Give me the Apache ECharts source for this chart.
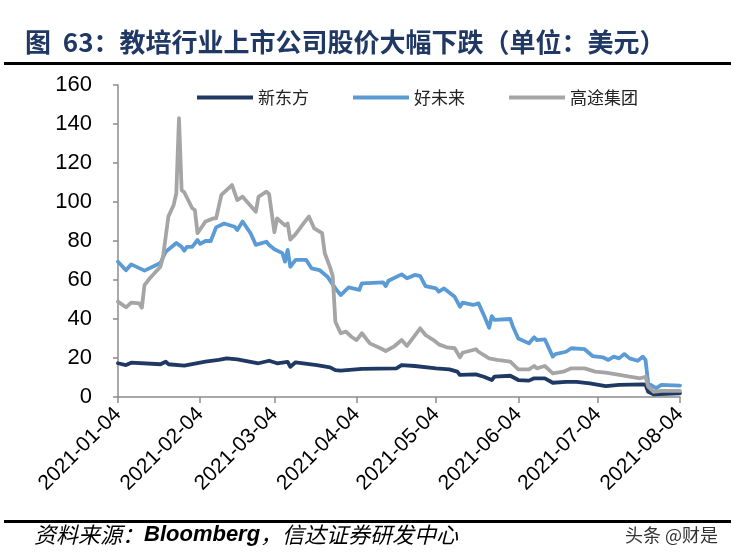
<!DOCTYPE html>
<html>
<head>
<meta charset="utf-8">
<script src="https://cdn.jsdelivr.net/npm/echarts@6/dist/echarts.min.js"></script>
<style>
html,body{margin:0;padding:0;background:#fff;}
#main{width:734px;height:560px;}
</style>
</head>
<body>
<div id="main"></div>
<script>
// ---- data (USD) ----
const seriesNames = ['新东方', '好未来', '高途集团'];
const tickDates = ['2021-01-04','2021-02-04','2021-03-04','2021-04-04','2021-05-04','2021-06-04','2021-07-04','2021-08-04'];
const yTicks = [0, 20, 40, 60, 80, 100, 120, 140, 160];

const eduDates = ['2021-01-04','2021-01-07','2021-01-09','2021-01-20','2021-01-22','2021-01-23','2021-01-29','2021-02-06','2021-02-11','2021-02-14','2021-02-18','2021-02-26','2021-03-02','2021-03-05','2021-03-09','2021-03-10','2021-03-12','2021-03-20','2021-03-25','2021-03-27','2021-03-29','2021-04-06','2021-04-19','2021-04-21','2021-04-26','2021-05-04','2021-05-09','2021-05-12','2021-05-13','2021-05-19','2021-05-22','2021-05-25','2021-05-26','2021-06-01','2021-06-04','2021-06-08','2021-06-10','2021-06-14','2021-06-17','2021-06-22','2021-06-26','2021-07-01','2021-07-07','2021-07-12','2021-07-21','2021-07-22','2021-07-23','2021-07-25','2021-08-04'];
const eduValues = [17.3,16.4,17.6,16.8,18.1,16.8,16.1,18.1,19.0,19.8,19.3,17.3,18.6,17.3,18.0,15.5,17.8,16.4,15.2,13.8,13.5,14.4,14.7,16.4,15.9,14.7,14.2,13.0,11.3,11.6,10.4,8.7,10.4,10.9,8.7,8.4,9.6,9.6,7.3,7.8,7.8,7.0,5.6,6.2,6.5,6.3,2.7,1.4,1.9];

const talDates = ['2021-01-04','2021-01-07','2021-01-09','2021-01-14','2021-01-20','2021-01-22','2021-01-26','2021-01-28','2021-01-29','2021-01-30','2021-02-01','2021-02-03','2021-02-04','2021-02-06','2021-02-08','2021-02-10','2021-02-13','2021-02-17','2021-02-18','2021-02-20','2021-02-23','2021-02-25','2021-03-01','2021-03-02','2021-03-04','2021-03-07','2021-03-08','2021-03-09','2021-03-10','2021-03-12','2021-03-16','2021-03-18','2021-03-21','2021-03-24','2021-03-27','2021-03-29','2021-04-01','2021-04-05','2021-04-06','2021-04-14','2021-04-15','2021-04-16','2021-04-21','2021-04-23','2021-04-26','2021-04-28','2021-04-30','2021-05-04','2021-05-05','2021-05-07','2021-05-11','2021-05-13','2021-05-14','2021-05-18','2021-05-20','2021-05-22','2021-05-24','2021-05-25','2021-05-26','2021-06-01','2021-06-02','2021-06-04','2021-06-08','2021-06-10','2021-06-11','2021-06-14','2021-06-17','2021-06-18','2021-06-22','2021-06-24','2021-06-29','2021-07-02','2021-07-06','2021-07-08','2021-07-10','2021-07-12','2021-07-14','2021-07-16','2021-07-19','2021-07-21','2021-07-22','2021-07-23','2021-07-26','2021-07-28','2021-08-04'];
const talValues = [69.4,65.0,68.0,64.8,68.7,74.5,79.0,77.0,75.0,77.0,77.0,80.5,78.5,80.0,80.0,87.0,89.0,87.3,85.6,90.0,84.0,78.0,79.6,78.0,75.8,73.8,69.4,75.4,66.8,70.3,70.3,66.0,65.1,61.7,55.7,52.3,56.2,54.9,58.3,58.8,56.9,59.6,62.9,60.9,62.6,62.0,56.9,55.7,54.0,55.7,51.4,46.3,48.4,47.2,48.0,42.0,35.5,41.5,39.5,40.0,36.0,30.0,27.5,30.6,29.2,29.6,20.7,22.0,23.2,25.0,24.5,21.0,20.3,19.0,20.7,19.8,22.0,19.8,18.6,20.7,19.0,7.0,4.5,6.2,5.8];

const gotuDates = ['2021-01-04','2021-01-07','2021-01-09','2021-01-12','2021-01-13','2021-01-14','2021-01-16','2021-01-20','2021-01-21','2021-01-23','2021-01-25','2021-01-26','2021-01-27','2021-01-28','2021-01-29','2021-02-01','2021-02-02','2021-02-03','2021-02-06','2021-02-09','2021-02-10','2021-02-12','2021-02-16','2021-02-18','2021-02-20','2021-02-25','2021-02-26','2021-03-01','2021-03-02','2021-03-04','2021-03-05','2021-03-08','2021-03-09','2021-03-10','2021-03-12','2021-03-15','2021-03-17','2021-03-19','2021-03-22','2021-03-23','2021-03-25','2021-03-26','2021-03-27','2021-03-29','2021-03-31','2021-04-02','2021-04-04','2021-04-06','2021-04-09','2021-04-13','2021-04-15','2021-04-18','2021-04-21','2021-04-23','2021-04-28','2021-04-30','2021-05-03','2021-05-05','2021-05-08','2021-05-11','2021-05-13','2021-05-14','2021-05-19','2021-05-20','2021-05-24','2021-05-27','2021-06-01','2021-06-04','2021-06-08','2021-06-10','2021-06-11','2021-06-14','2021-06-17','2021-06-21','2021-06-24','2021-06-29','2021-07-03','2021-07-07','2021-07-11','2021-07-16','2021-07-20','2021-07-22','2021-07-23','2021-07-25','2021-07-28','2021-08-04'];
const gotuValues = [48.9,46.0,48.4,48.0,45.8,57.4,60.9,66.8,72.0,92.5,98.5,104.5,143.0,106.0,105.0,96.8,95.9,84.0,90.0,91.6,91.6,103.6,108.7,101.0,102.7,95.0,102.7,105.3,104.0,84.5,91.6,88.0,89.0,80.7,83.5,89.0,92.5,86.5,84.0,73.7,66.5,62.0,38.6,32.7,33.5,30.9,29.2,32.7,27.5,25.0,23.6,25.8,29.2,26.2,35.2,31.8,29.2,27.0,25.5,25.0,20.3,22.7,24.5,23.2,19.8,19.0,18.1,14.2,14.2,15.9,14.7,15.9,12.1,13.0,14.7,14.7,13.0,12.5,11.6,10.4,9.6,10.4,5.3,2.7,3.1,3.1];

const colors = ['#1F3864', '#5B9BD5', '#A5A5A5'];

// ---- helpers: calendar-day positions (days since first tick date) ----
const DAY = 86400000;
function utc(s) { const p = s.split('-').map(Number); return Date.UTC(p[0], p[1] - 1, p[2]); }
const base = utc(tickDates[0]);
function dayOf(s) { return Math.round((utc(s) - base) / DAY); }
function pad(n) { return n < 10 ? '0' + n : '' + n; }
function fmtDay(v) { const d = new Date(base + Math.round(v) * DAY); return d.getUTCFullYear() + '-' + pad(d.getUTCMonth() + 1) + '-' + pad(d.getUTCDate()); }
function pairs(dates, vals) { return dates.map((d, i) => [dayOf(d), vals[i]]); }

const tickDays = tickDates.map(dayOf);
const chart = echarts.init(document.getElementById('main'), null, { renderer: 'canvas' });

const lineSeries = [
  [eduDates, eduValues],
  [talDates, talValues],
  [gotuDates, gotuValues]
].map((s, i) => ({
  name: seriesNames[i],
  type: 'line',
  data: pairs(s[0], s[1]),
  showSymbol: false,
  symbol: 'none',
  lineStyle: { color: colors[i], width: 3.8, join: 'round', cap: 'round' },
  itemStyle: { color: colors[i] },
  z: 2 + i,
  animation: false
}));

chart.setOption({
  animation: false,
  backgroundColor: '#ffffff',
  title: {
    text: '图  63：教培行业上市公司股价大幅下跌（单位：美元）',
    left: 20,
    top: 24,
    textStyle: {
      fontFamily: '"Noto Sans CJK SC", sans-serif',
      fontSize: 26,
      fontWeight: 'bold',
      color: '#1F3864'
    }
  },
  legend: {
    data: seriesNames,
    left: 192,
    top: 84,
    itemWidth: 56,
    itemHeight: 4,
    itemGap: 44,
    icon: 'rect',
    textStyle: {
      fontFamily: '"Noto Sans CJK SC", sans-serif',
      fontSize: 17,
      color: '#222'
    }
  },
  grid: { left: 118, right: 54, top: 85, bottom: 163, containLabel: false },
  xAxis: {
    type: 'value',
    min: tickDays[0],
    max: tickDays[tickDays.length - 1],
    axisLine: { show: true, lineStyle: { color: '#8c8c8c', width: 1.5 } },
    axisTick: { show: true, length: 6, lineStyle: { color: '#8c8c8c', width: 1.5 }, customValues: tickDays },
    axisLabel: {
      customValues: tickDays,
      rotate: 45,
      margin: 14,
      fontFamily: '"Liberation Sans", Arial, sans-serif',
      fontSize: 21,
      color: '#000',
      formatter: function (v) { return fmtDay(v); }
    },
    splitLine: { show: false }
  },
  yAxis: {
    type: 'value',
    min: 0,
    max: 160,
    interval: 20,
    axisLine: { show: true, lineStyle: { color: '#8c8c8c', width: 1.5 } },
    axisTick: { show: true, length: 5, lineStyle: { color: '#8c8c8c', width: 1.5 } },
    axisLabel: {
      margin: 26,
      fontFamily: '"Liberation Sans", Arial, sans-serif',
      fontSize: 22,
      color: '#000',
      formatter: function (v) { return yTicks.indexOf(v) >= 0 ? String(v) : ''; }
    },
    splitLine: { show: false }
  },
  series: lineSeries,
  graphic: [
    { type: 'rect', shape: { x: 4, y: 62, width: 727, height: 3 }, style: { fill: '#000' }, silent: true },
    { type: 'rect', shape: { x: 4, y: 520, width: 727, height: 3 }, style: { fill: '#000' }, silent: true },
    {
      type: 'text', left: 34, top: 524,
      style: {
        text: '{k|资料来源：}{b|Bloomberg}{k|，信达证券研发中心}',
        rich: {
          k: { fontFamily: '"Noto Sans CJK SC", sans-serif', fontStyle: 'italic', fontSize: 22, fill: '#000' },
          b: { fontFamily: '"Liberation Sans", Arial, sans-serif', fontStyle: 'italic', fontWeight: 'bold', fontSize: 22, fill: '#000' }
        }
      }
    },
    {
      type: 'text', right: 16, top: 526,
      style: { text: '头条 @财是', fontFamily: '"Noto Sans CJK SC", sans-serif', fontSize: 18, fill: '#333' }
    }
  ]
});
</script>
</body>
</html>
